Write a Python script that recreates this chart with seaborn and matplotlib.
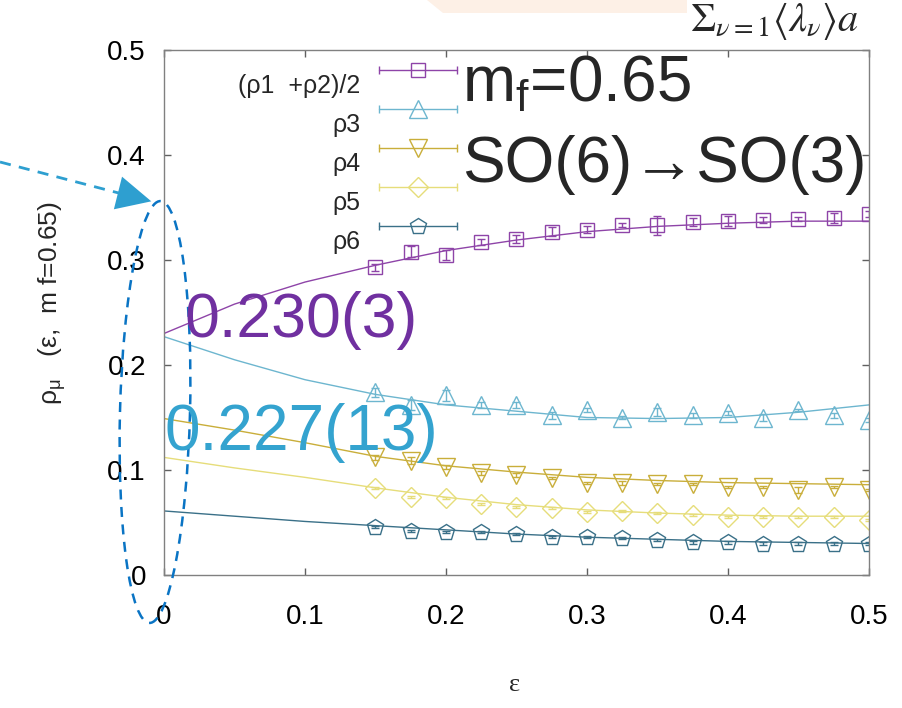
import numpy as np
import pandas as pd
import seaborn as sns
import matplotlib.pyplot as plt
from matplotlib.patches import Ellipse, Polygon, FancyArrowPatch
from matplotlib.lines import Line2D
from matplotlib.legend_handler import HandlerLine2D

# measured points (epsilon grid of the simulations)
eps = [0.15, 0.175, 0.2, 0.225, 0.25, 0.275, 0.3, 0.325, 0.35, 0.375, 0.4, 0.425, 0.45, 0.475, 0.5]

rho12 = [0.293, 0.308, 0.305, 0.317, 0.320, 0.327, 0.329, 0.333, 0.333, 0.336, 0.337, 0.338, 0.339, 0.340, 0.344]
rho3 = [0.174, 0.162, 0.171, 0.162, 0.162, 0.152, 0.157, 0.150, 0.155, 0.152, 0.154, 0.150, 0.157, 0.152, 0.148]
rho4 = [0.112, 0.109, 0.103, 0.097, 0.095, 0.092, 0.088, 0.088, 0.087, 0.087, 0.084, 0.084, 0.081, 0.084, 0.081]
rho5 = [0.083, 0.074, 0.073, 0.068, 0.065, 0.064, 0.060, 0.061, 0.059, 0.057, 0.055, 0.055, 0.055, 0.055, 0.052]
rho6 = [0.046, 0.042, 0.041, 0.041, 0.039, 0.036, 0.036, 0.035, 0.033, 0.031, 0.031, 0.030, 0.030, 0.030, 0.030]

err12 = [0.003, 0.005, 0.005, 0.003, 0.004, 0.004, 0.003, 0.002, 0.009, 0.004, 0.005, 0.003, 0.002, 0.005, 0.003]
err3 = [0.004, 0.005, 0.005, 0.003, 0.003, 0.003, 0.002, 0.001, 0.004, 0.002, 0.002, 0.003, 0.001, 0.002, 0.002]
err4 = [0.002, 0.003, 0.002, 0.002, 0.002, 0.001, 0.001, 0.002, 0.001, 0.001, 0.001, 0.001, 0.003, 0.001, 0.001]
err5 = [0.001, 0.001, 0.001, 0.001, 0.001, 0.001, 0.001, 0.001, 0.001, 0.001, 0.001, 0.001, 0.001, 0.001, 0.001]
err6 = [0.001, 0.001, 0.001, 0.001, 0.001, 0.001, 0.001, 0.001, 0.001, 0.001, 0.001, 0.001, 0.001, 0.001, 0.001]

fit_eps = [0.0, 0.05, 0.1, 0.15, 0.2, 0.25, 0.3, 0.35, 0.4, 0.45, 0.5]
fit12 = [0.230, 0.258, 0.279, 0.295, 0.309, 0.319, 0.327, 0.332, 0.335, 0.337, 0.337]
fit3 = [0.227, 0.205, 0.186, 0.172, 0.162, 0.156, 0.150, 0.149, 0.150, 0.155, 0.162]
fit4 = [0.149, 0.138, 0.126, 0.113, 0.104, 0.098, 0.093, 0.090, 0.088, 0.087, 0.086]
fit5 = [0.112, 0.102, 0.093, 0.083, 0.074, 0.067, 0.062, 0.059, 0.057, 0.056, 0.056]
fit6 = [0.061, 0.056, 0.051, 0.047, 0.043, 0.039, 0.036, 0.034, 0.032, 0.031, 0.030]

labels = ['(ρ1  +ρ2)/2', 'ρ3', 'ρ4', 'ρ5', 'ρ6']
colors = ['#8E44A8', '#6DB6CF', '#C9AE3A', '#E6DD7A', '#3A7088']
markers = ['s', '^', 'v', 'D', 'p']
msizes = [10, 13, 13, 10, 12]

W, H = 903, 708


def fx(x):
    return x / W


def fy(y):
    return 1 - y / H


sns.set_theme(style='ticks')
plt.rcParams['font.family'] = ['Liberation Sans', 'DejaVu Sans']
plt.rcParams['mathtext.fontset'] = 'custom'
plt.rcParams['mathtext.rm'] = 'Liberation Sans'
plt.rcParams['mathtext.it'] = 'Liberation Sans:italic'

fig = plt.figure(figsize=(W / 100, H / 100), dpi=100)
ax = fig.add_axes([fx(164), fy(575), (869 - 164) / W, (575 - 50) / H])

series = [rho12, rho3, rho4, rho5, rho6]
errs = [err12, err3, err4, err5, err6]
fits = [fit12, fit3, fit4, fit5, fit6]

handles = []
for lab, vals, er, fit, c, m, ms in zip(labels, series, errs, fits, colors, markers, msizes):
    sns.lineplot(x=fit_eps, y=fit, color=c, lw=1, ax=ax, legend=False)
    ax.errorbar(eps, vals, yerr=er, fmt=m, mfc='none', mec=c, ecolor=c, ms=ms,
                mew=1, capsize=3, elinewidth=1, ls='none')
    handles.append(Line2D([], [], color=c, marker=m, mfc='none', mec=c, ms=ms, lw=1, mew=1))


class CapHandler(HandlerLine2D):
    # gnuplot-like key: line with end caps, sitting a bit above its label
    def create_artists(self, legend, orig, xdescent, ydescent, width, height, fontsize, trans):
        arts = super().create_artists(legend, orig, xdescent, ydescent, width, height, fontsize, trans)
        ymid = None
        for a in arts:
            yd = np.asarray(a.get_ydata(), dtype=float) + 10
            a.set_ydata(yd)
            ymid = yd[0]
        caps = Line2D([-xdescent, -xdescent + width], [ymid, ymid], ls='none', marker='|',
                      ms=6, mew=1, color=orig.get_color(), transform=trans)
        return list(arts) + [caps]


leg = ax.legend(handles, labels, loc='upper right', bbox_to_anchor=(fx(457), fy(74)),
                bbox_transform=fig.transFigure, frameon=False, markerfirst=False,
                fontsize=18, handlelength=3.1, handletextpad=0.75, labelspacing=0.6,
                borderpad=0, borderaxespad=0, numpoints=1,
                handler_map={Line2D: CapHandler()})

ax.set_xlim(0, 0.5)
ax.set_ylim(0, 0.5)
ax.set_xticks([0, 0.1, 0.2, 0.3, 0.4, 0.5])
ax.set_xticklabels(['0', '0.1', '0.2', '0.3', '0.4', '0.5'])
ax.set_yticks([0, 0.1, 0.2, 0.3, 0.4, 0.5])
ax.set_yticklabels(['0', '0.1', '0.2', '0.3', '0.4', '0.5'])
ax.tick_params(direction='in', length=5, width=1, color='#606060', top=True, right=True,
               labelsize=20, labelcolor='black')
ax.tick_params(axis='y', pad=13)
ax.tick_params(axis='x', pad=21)
for s in ax.spines.values():
    s.set_visible(True)
    s.set_color('#808080')
    s.set_linewidth(1)
ax.set_xlabel('')
ax.set_ylabel('')

fig.text(fx(52), fy(303), 'ρ$_\\mathrm{μ}$   (ε,  m f=0.65)', rotation=90, ha='center', va='center',
         fontsize=19)
fig.text(fx(515), fy(685), 'ε', ha='center', va='center', fontsize=19, family='Liberation Serif')

# slide annotations
fig.text(fx(462), fy(102), 'm$_\\mathrm{f}$=0.65', fontsize=46, va='baseline', ha='left')
fig.text(fx(462), fy(182), 'SO(6)→SO(3)', fontsize=46, va='baseline', ha='left')
fig.text(fx(185), fy(337), '0.230(3)', fontsize=45, color='#7030A0', va='baseline', ha='left')
fig.text(fx(165), fy(450), '0.227(13)', fontsize=46, color='#34A3CF', va='baseline', ha='left')
fig.text(fx(690), fy(31), r'$\Sigma_{\nu=1}\langle\lambda_\nu\rangle a$', fontsize=29,
         math_fontfamily='stix', va='baseline', ha='left')

fig.add_artist(Polygon([(fx(427), fy(0)), (fx(443), fy(13)), (fx(687), fy(13)), (fx(687), fy(0))],
                       closed=True, transform=fig.transFigure, facecolor='#FDF0E6',
                       edgecolor='none', zorder=-5))

# dashed ellipse around epsilon -> 0 and pointing arrow
fig.add_artist(Ellipse((1.55, (H - 412) / 100), 0.70, 4.22, angle=-1.5,
                       transform=fig.dpi_scale_trans, fill=False, edgecolor='#0A74C4',
                       lw=1.8, ls=(0, (4, 3))))
fig.add_artist(Line2D([fx(0), fx(134)], [fy(162), fy(197)], transform=fig.transFigure,
                      color='#2E9FD0', lw=2, ls=(0, (4, 3))))
fig.add_artist(FancyArrowPatch((fx(128), fy(195.5)), (fx(154), fy(202)), transform=fig.transFigure,
                               arrowstyle='-|>,head_length=0.45,head_width=0.22', mutation_scale=55,
                               color='#2E9FD0', lw=0))

fig.savefig('out.png', dpi=100)
